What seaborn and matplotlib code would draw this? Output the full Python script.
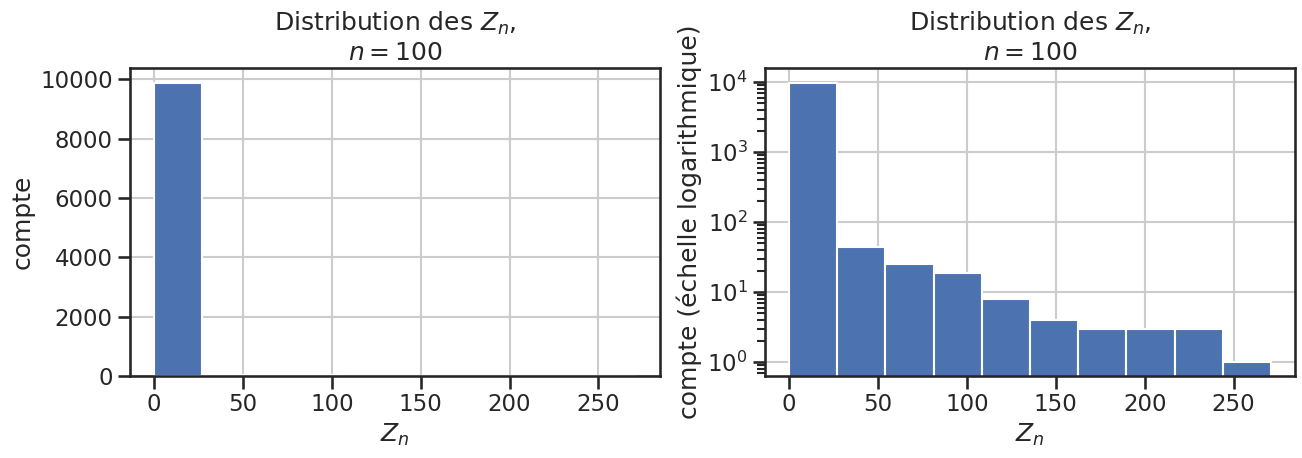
import numpy as np
import pandas as pd
import matplotlib
matplotlib.use("Agg")
import matplotlib.pyplot as plt
import seaborn as sns

# Data (10 bins)
z_min = 0.0
z_max = 271.0
n_bins = 10
counts = [9890, 44, 25, 19, 8, 4, 3, 3, 3, 1]
titre = "Distribution des $Z_n$,\n$n=100$"
xlabel = "$Z_n$"
ylabel_lin = "compte"
ylabel_log = "compte (échelle logarithmique)"

edges = np.linspace(z_min, z_max, n_bins + 1)
centers = (edges[:-1] + edges[1:]) / 2
df = pd.DataFrame({"Zn": centers, "count": counts})

sns.set_theme(context="talk", style="ticks", rc={"axes.grid": True})

fig, axes = plt.subplots(1, 2, figsize=(13.02, 4.58), dpi=100)
fig.subplots_adjust(left=0.0998, right=0.9946, bottom=0.179, top=0.8515, wspace=0.1985)

color = "#4c72b0"
ax = axes[0]
sns.histplot(data=df, x="Zn", weights="count", bins=n_bins, binrange=(z_min, z_max),
             ax=ax, color=color, alpha=1, edgecolor="white", linewidth=1.5)
ax.set_title(titre)
ax.set_xlabel(xlabel)
ax.set_ylabel(ylabel_lin)
ax.set_xticks([0, 50, 100, 150, 200, 250])

ax = axes[1]
sns.histplot(data=df, x="Zn", weights="count", bins=n_bins, binrange=(z_min, z_max),
             ax=ax, color=color, alpha=1, edgecolor="white", linewidth=1.5)
ax.set_yscale("log")
ax.set_ylim(0.63, 16000)
ax.set_title(titre)
ax.set_xlabel(xlabel)
ax.set_ylabel(ylabel_log)
ax.set_xticks([0, 50, 100, 150, 200, 250])

for a in axes:
    a.set_axisbelow(True)
    a.set_xlim(z_min - 0.05 * (z_max - z_min), z_max + 0.05 * (z_max - z_min))

fig.savefig("out.png", dpi=100)
